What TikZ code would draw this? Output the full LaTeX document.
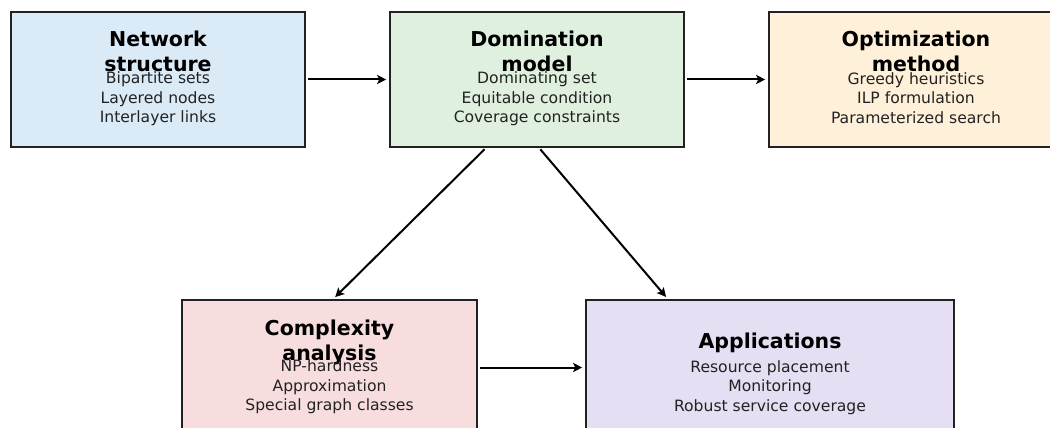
\documentclass[tikz,border=0pt]{standalone}
\usepackage{fontspec}
\setmainfont{DejaVu Sans}
\usetikzlibrary{arrows.meta, calc}

\definecolor{netblue}{HTML}{DAEAF7}
\definecolor{domgreen}{HTML}{E0F0DF}
\definecolor{optorange}{HTML}{FFF0D9}
\definecolor{cplxpink}{HTML}{F8DDDF}
\definecolor{applav}{HTML}{E6DEF2}
\definecolor{edge}{HTML}{222222}

\begin{document}
\begin{tikzpicture}[x=1pt, y=-1pt,
  box/.style = {draw = edge, line width = 1.6pt, minimum width = 294pt, minimum height = 135pt, inner sep = 0pt},
  title/.style = {inner sep = 0pt, align = center, font = \fontsize{20.5}{24.6}\selectfont\bfseries},
  items/.style = {inner sep = 0pt, align = center, text = edge, font = \fontsize{15.6}{19.5}\selectfont},
  flow/.style = {line width = 2pt, draw = black, -{Stealth[length = 9pt, width = 9pt, inset = 2pt]}, shorten < = 2pt, shorten > = 3pt}]

\useasboundingbox (0,0) rectangle (1050,428);
\clip (0,0) rectangle (1050,428);

\node[box, fill = netblue] (net) at (158,79.5) {};
\node[box, fill = domgreen] (dom) at (537,79.5) {};
\node[box, fill = optorange] (opt) at (916,79.5) {};
\node[box, fill = cplxpink, minimum width = 295pt] (cplx) at (329.5,367.5) {};
\node[box, fill = applav, minimum width = 368pt] (app) at (770,367.5) {};

\node[title] (net title) at ($(net.center)+(0,-28)$) {Network\\structure};
\node[items] (net items) at ($(net.center)+(0,19.5)$) {Bipartite sets\\Layered nodes\\Interlayer links};

\node[title] (dom title) at ($(dom.center)+(0,-28)$) {Domination\\model};
\node[items] (dom items) at ($(dom.center)+(0,19.5)$) {Dominating set\\Equitable condition\\Coverage constraints};

\node[title] (opt title) at ($(opt.center)+(0,-28)$) {Optimization\\method};
\node[items] (opt items) at ($(opt.center)+(0,18.5)$) {Greedy heuristics\\ILP formulation\\Parameterized search};

\node[title] (cplx title) at ($(cplx.center)+(0,-25)$) {Complexity\\analysis};
\node[items] (cplx items) at ($(cplx.center)+(0,19.5)$) {NP-hardness\\Approximation\\Special graph classes};

\node[title] (app title) at ($(app.center)+(0,-25)$) {Applications};
\node[items] (app items) at ($(app.center)+(0,20)$) {Resource placement\\Monitoring\\Robust service coverage};

% connectors
\draw[flow] (net.east) -- (dom.west);
\draw[flow] (dom.east) -- (opt.west);
\draw[flow] (cplx.east) -- (app.west);
\draw[flow] ([xshift = -51pt]dom.south) -- ([xshift = 3.5pt]cplx.north);
\draw[flow] ([xshift = 2pt]dom.south) -- ([xshift = -102pt]app.north);
\end{tikzpicture}
\end{document}
